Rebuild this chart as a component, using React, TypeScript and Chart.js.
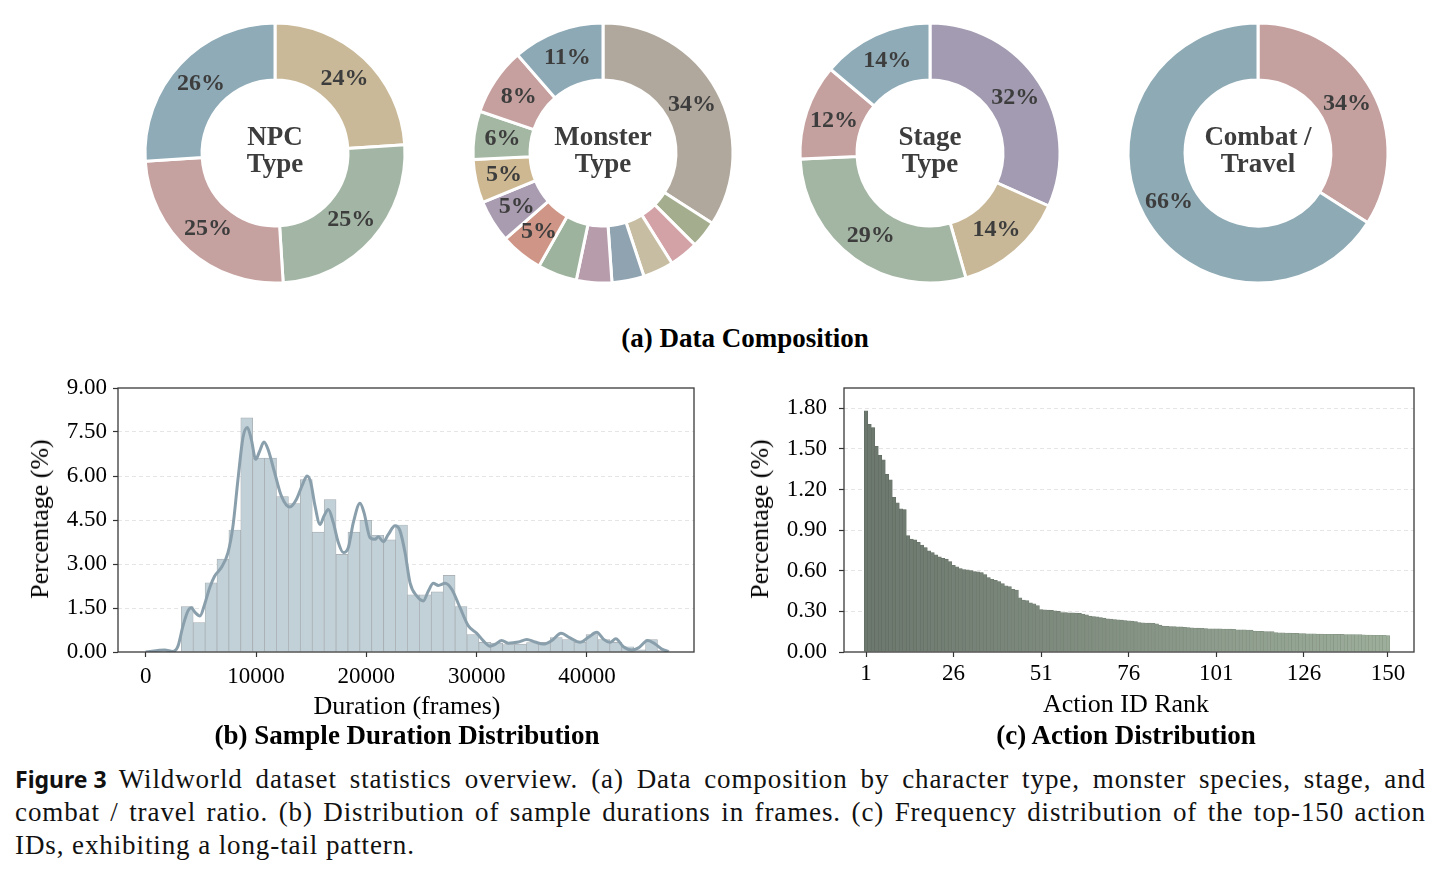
import React, { useEffect, useRef } from "react";
import { Chart, registerables } from "chart.js";

Chart.register(...registerables);

const SERIF = '"Liberation Serif", "Times New Roman", serif';

// ---------------- (a) Data composition ----------------
const npcCategories = ["NPC type 1", "NPC type 2", "NPC type 3", "NPC type 4"];
const npcShares = [24, 25, 25, 26];
const npcColors = ["#c9b998", "#a3b6a5", "#c5a19f", "#8eabb7"];

const monsterCategories = [
  "Species 1", "Species 2", "Species 3", "Species 4", "Species 5", "Species 6", "Species 7",
  "Species 8", "Species 9", "Species 10", "Species 11", "Species 12", "Species 13",
];
const monsterShares = [34.1, 3.4, 3.6, 3.8, 4.0, 4.4, 4.9, 5.3, 5.3, 5.4, 6.0, 8.4, 11.4];
const monsterColors = [
  "#b1a89d", "#a4ae8e", "#d3a2a6", "#c7bda2", "#8fa3b1", "#b79cac", "#9db39d",
  "#cf9687", "#a99cb1", "#cdb892", "#a3b7a2", "#c5a09f", "#8ea9b6",
];

const stageCategories = ["Stage 1", "Stage 2", "Stage 3", "Stage 4", "Stage 5"];
const stageShares = [32, 14, 29, 12, 14];
const stageColors = ["#a39bb1", "#c8b898", "#a3b5a3", "#c4a09f", "#8eabb7"];

const combatCategories = ["Combat", "Travel"];
const combatShares = [34, 66];
const combatColors = ["#c4a09f", "#8eaab5"];

// ---------------- (b) Sample duration distribution ----------------
const durationBinStart = 3228;
const durationBinWidth = 1079;
const durationHistogram = [
  1.55, 1.0, 2.36, 3.17, 4.16, 7.98, 6.61, 6.61, 5.3, 5.06, 5.88, 4.09, 5.2, 3.33, 4.09, 4.49,
  3.98, 3.82, 4.33, 1.95, 1.95, 2.05, 2.61, 1.55, 0.59, 0.33, 0.3, 0.25, 0.27, 0.32, 0.33,
  0.49, 0.42, 0.33, 0.59, 0.42, 0.33, 0.18, 0.07, 0.42, 0.05,
];
const kdeFrames = [
  0, 1722, 2475, 2928, 3382, 3835, 4135, 4497, 4923, 5348, 5802, 6255, 6857, 7461, 7915, 8368,
  8821, 9213, 9576, 9970, 10335, 10725, 11088, 11692, 12297, 13055, 13658, 14262, 14624, 14950,
  15349, 15802, 16165, 16555, 17008, 17461, 17915, 18368, 18821, 19429, 19791, 20335, 20789,
  21088, 21541, 21995, 22602, 23056, 23508, 23962, 24569, 25168, 25621, 26074, 26528, 27135,
  27742, 28495, 29248, 30009, 30607, 31215, 31668, 32276, 32874, 33780, 34542, 35295, 36047,
  36808, 37652, 38468, 39374, 40127, 40889, 41487, 42095, 42611, 43300, 44061, 44660, 45512,
  46174, 46781, 47380,
];
const kdeDensity = [
  0, 0.07, 0.02, 0.2, 0.89, 1.4, 1.51, 1.34, 1.23, 1.63, 2.19, 2.59, 2.88, 3.39, 4.3, 5.89,
  7.31, 7.65, 7.25, 6.57, 6.85, 7.16, 6.91, 6.11, 5.32, 4.94, 5.2, 5.75, 6.0, 5.8,
  4.98, 4.35, 4.64, 4.86, 4.41, 3.73, 3.39, 3.56, 4.41, 5.07, 4.75, 3.9, 3.84,
  3.93, 3.76, 4.01, 4.3, 4.13, 3.39, 2.36, 1.91, 1.74, 2.08, 2.34, 2.27, 2.34,
  2.14, 1.51, 0.89, 0.64, 0.38, 0.2, 0.26, 0.39, 0.3, 0.34, 0.43, 0.34, 0.27,
  0.39, 0.64, 0.48, 0.33, 0.5, 0.67, 0.44, 0.33, 0.45, 0.18, 0.07, 0.14, 0.39,
  0.27, 0.1, 0.02,
];
const durationTicks = [0, 10000, 20000, 30000, 40000];
const durationPctTicks = [0, 1.5, 3, 4.5, 6, 7.5, 9];

// ---------------- (c) Action distribution ----------------
const actionShares = [
  1.781, 1.682, 1.658, 1.519, 1.453, 1.42, 1.312, 1.272, 1.143, 1.101,
  1.057, 1.052, 0.859, 0.834, 0.829, 0.81, 0.79, 0.772, 0.748, 0.735,
  0.718, 0.703, 0.691, 0.686, 0.668, 0.641, 0.629, 0.617, 0.609, 0.607,
  0.602, 0.594, 0.592, 0.587, 0.572, 0.55, 0.537, 0.53, 0.52, 0.505,
  0.488, 0.483, 0.463, 0.458, 0.401, 0.384, 0.379, 0.364, 0.355, 0.342,
  0.314, 0.312, 0.309, 0.307, 0.304, 0.3, 0.292, 0.292, 0.29, 0.29,
  0.287, 0.285, 0.28, 0.275, 0.265, 0.262, 0.26, 0.255, 0.25, 0.245,
  0.243, 0.24, 0.238, 0.235, 0.233, 0.23, 0.228, 0.225, 0.218, 0.215,
  0.214, 0.213, 0.212, 0.208, 0.198, 0.191, 0.19, 0.188, 0.187, 0.186,
  0.185, 0.183, 0.181, 0.178, 0.177, 0.176, 0.175, 0.173, 0.172, 0.171,
  0.171, 0.171, 0.17, 0.17, 0.169, 0.168, 0.164, 0.163, 0.163, 0.162,
  0.161, 0.154, 0.153, 0.152, 0.151, 0.15, 0.15, 0.143, 0.142, 0.141,
  0.14, 0.139, 0.137, 0.137, 0.136, 0.136, 0.135, 0.135, 0.134, 0.132,
  0.132, 0.131, 0.131, 0.131, 0.13, 0.13, 0.13, 0.129, 0.129, 0.129,
  0.128, 0.128, 0.126, 0.125, 0.125, 0.124, 0.124, 0.123, 0.123, 0.122,
];
const actionRankTicks = [1, 26, 51, 76, 101, 126, 150];
const actionPctTicks = [0, 0.3, 0.6, 0.9, 1.2, 1.5, 1.8];

// ---------------- helpers ----------------
const framePlugin = {
  id: "frameBox",
  afterDraw(chart: any) {
    const { ctx, chartArea } = chart;
    ctx.save();
    ctx.strokeStyle = "#3a3a3a";
    ctx.lineWidth = 1.3;
    ctx.strokeRect(chartArea.left, chartArea.top, chartArea.right - chartArea.left, chartArea.bottom - chartArea.top);
    ctx.restore();
  },
};

function mix(a: string, b: string, t: number) {
  const pa = [1, 3, 5].map((i) => parseInt(a.slice(i, i + 2), 16));
  const pb = [1, 3, 5].map((i) => parseInt(b.slice(i, i + 2), 16));
  const c = pa.map((v, i) => Math.round(v + (pb[i] - v) * t));
  return `rgb(${c[0]},${c[1]},${c[2]})`;
}

type DonutProps = {
  cx: number;
  cy: number;
  title: string[];
  categories: string[];
  values: number[];
  colors: string[];
};

function Donut({ cx, cy, title, categories, values, colors }: DonutProps) {
  const ref = useRef<HTMLCanvasElement>(null);
  useEffect(() => {
    const total = values.reduce((a, b) => a + b, 0);
    const labelPlugin = {
      id: "donutLabels",
      afterDatasetsDraw(chart: any) {
        const ctx = chart.ctx;
        const meta = chart.getDatasetMeta(0);
        ctx.save();
        ctx.fillStyle = "#3d3d3d";
        ctx.textAlign = "center";
        ctx.textBaseline = "middle";
        ctx.font = `bold 24px ${SERIF}`;
        meta.data.forEach((arc: any, i: number) => {
          const pct = (values[i] / total) * 100;
          if (pct < 5) return;
          const p = arc.getProps(["x", "y", "startAngle", "endAngle", "innerRadius", "outerRadius"], true);
          const a = (p.startAngle + p.endAngle) / 2;
          const r = (p.innerRadius + p.outerRadius) / 2;
          ctx.fillText(`${Math.round(pct)}%`, p.x + Math.cos(a) * r, p.y + Math.sin(a) * r);
        });
        const c = meta.data[0].getProps(["x", "y"], true);
        ctx.font = `bold 27px ${SERIF}`;
        ctx.textBaseline = "alphabetic";
        ctx.fillText(title[0], c.x, c.y - 8);
        ctx.fillText(title[1], c.x, c.y + 18.5);
        ctx.restore();
      },
    };
    const chart = new Chart(ref.current as HTMLCanvasElement, {
      type: "doughnut",
      data: {
        labels: categories,
        datasets: [
          {
            data: values,
            backgroundColor: colors,
            borderColor: "#ffffff",
            borderWidth: 3,
            borderJoinStyle: "miter",
          } as any,
        ],
      },
      options: {
        responsive: false,
        animation: false,
        devicePixelRatio: 1,
        radius: 130,
        cutout: 75.5,
        layout: { padding: 0 },
        plugins: { legend: { display: false }, tooltip: { enabled: false } },
      } as any,
      plugins: [labelPlugin],
    });
    return () => chart.destroy();
  }, []);
  return (
    <canvas
      ref={ref}
      width={272}
      height={272}
      style={{ position: "absolute", left: cx - 136, top: cy - 136, width: 272, height: 272 }}
    />
  );
}

const tickFont = { family: SERIF, size: 23 };

function DurationChart() {
  const ref = useRef<HTMLCanvasElement>(null);
  useEffect(() => {
    const bars = durationHistogram.map((v, i) => ({
      x: durationBinStart + durationBinWidth * (i + 0.5),
      y: v,
    }));
    const kde = kdeFrames.map((x, i) => ({ x, y: kdeDensity[i] }));
    const chart = new Chart(ref.current as HTMLCanvasElement, {
      type: "bar",
      data: {
        datasets: [
          {
            type: "line",
            data: kde,
            borderColor: "#8a9fac",
            borderWidth: 3,
            pointRadius: 0,
            tension: 0.4,
            cubicInterpolationMode: "monotone",
            order: 0,
          } as any,
          {
            type: "bar",
            data: bars,
            backgroundColor: "#c2d0d7",
            borderColor: "#a4abaf",
            borderWidth: 0.7,
            borderSkipped: "bottom",
            barPercentage: 1,
            categoryPercentage: 1,
            grouped: false,
            order: 1,
          } as any,
        ],
      },
      options: {
        responsive: false,
        animation: false,
        devicePixelRatio: 1,
        layout: { padding: { top: 18, right: 26, left: 0, bottom: 0 } },
        plugins: { legend: { display: false }, tooltip: { enabled: false } },
        scales: {
          x: {
            type: "linear",
            offset: false,
            min: -2508,
            max: 49699,
            afterBuildTicks: (s: any) => {
              s.ticks = durationTicks.map((v) => ({ value: v }));
            },
            afterFit: (s: any) => {
              s.height = 48;
              s.paddingLeft = 0;
              s.paddingRight = 0;
            },
            grid: { offset: false, drawOnChartArea: false, drawTicks: true, tickLength: 5, tickColor: "#333", tickWidth: 1.2 },
            border: { display: false },
            ticks: { color: "#000", font: tickFont, padding: 6, maxRotation: 0, autoSkip: false, callback: (v: any) => String(v) },
          },
          y: {
            min: 0,
            max: 9,
            afterBuildTicks: (s: any) => {
              s.ticks = durationPctTicks.map((v) => ({ value: v }));
            },
            afterFit: (s: any) => {
              s.width = 118;
              s.paddingTop = 0;
              s.paddingBottom = 0;
            },
            grid: {
              color: (c: any) => (c.tick && (c.tick.value === 0 || c.tick.value === 9) ? "rgba(0,0,0,0)" : "#dedede"),
              lineWidth: 0.8,
              tickLength: 5,
              tickColor: "#333",
              tickWidth: 1.2,
            },
            border: { display: false, dash: [4, 3] },
            ticks: { color: "#000", font: tickFont, padding: 6, autoSkip: false, callback: (v: any) => Number(v).toFixed(2) },
          },
        },
      } as any,
      plugins: [framePlugin],
    });
    return () => chart.destroy();
  }, []);
  return (
    <canvas ref={ref} width={720} height={330} style={{ position: "absolute", left: 0, top: 370, width: 720, height: 330 }} />
  );
}

function ActionChart() {
  const ref = useRef<HTMLCanvasElement>(null);
  useEffect(() => {
    const n = actionShares.length;
    const points = actionShares.map((v, i) => ({ x: i + 1, y: v }));
    const fills = actionShares.map((_, i) => mix("#6c776d", "#9dae9b", i / (n - 1)));
    const edges = actionShares.map((_, i) => mix("#5f6a60", "#8a9a88", i / (n - 1)));
    const chart = new Chart(ref.current as HTMLCanvasElement, {
      type: "bar",
      data: {
        datasets: [
          {
            data: points,
            backgroundColor: fills,
            borderColor: edges,
            borderWidth: 0.6,
            borderSkipped: "bottom",
            barPercentage: 1,
            categoryPercentage: 1,
          } as any,
        ],
      },
      options: {
        responsive: false,
        animation: false,
        devicePixelRatio: 1,
        layout: { padding: { top: 18, right: 26, left: 0, bottom: 0 } },
        plugins: { legend: { display: false }, tooltip: { enabled: false } },
        scales: {
          x: {
            type: "linear",
            offset: false,
            min: -5.29,
            max: 157.43,
            afterBuildTicks: (s: any) => {
              s.ticks = actionRankTicks.map((v) => ({ value: v }));
            },
            afterFit: (s: any) => {
              s.height = 48;
              s.paddingLeft = 0;
              s.paddingRight = 0;
            },
            grid: { offset: false, drawOnChartArea: false, drawTicks: true, tickLength: 5, tickColor: "#333", tickWidth: 1.2 },
            border: { display: false },
            ticks: { color: "#000", font: tickFont, padding: 3, maxRotation: 0, autoSkip: false, callback: (v: any) => String(v) },
          },
          y: {
            min: 0,
            max: 1.95,
            afterBuildTicks: (s: any) => {
              s.ticks = actionPctTicks.map((v) => ({ value: v }));
            },
            afterFit: (s: any) => {
              s.width = 114;
              s.paddingTop = 0;
              s.paddingBottom = 0;
            },
            grid: {
              color: (c: any) => (c.tick && c.tick.value === 0 ? "rgba(0,0,0,0)" : "#dedede"),
              lineWidth: 0.8,
              tickLength: 5,
              tickColor: "#333",
              tickWidth: 1.2,
            },
            border: { display: false, dash: [4, 3] },
            ticks: { color: "#000", font: tickFont, padding: 12, autoSkip: false, callback: (v: any) => Number(v).toFixed(2) },
          },
        },
      } as any,
      plugins: [framePlugin],
    });
    return () => chart.destroy();
  }, []);
  return (
    <canvas ref={ref} width={710} height={330} style={{ position: "absolute", left: 730, top: 370, width: 710, height: 330 }} />
  );
}

function Label({ x, y, children, size = 24, bold = false, rotate = false }: any) {
  return (
    <div
      style={{
        position: "absolute",
        left: x,
        top: y,
        transform: `translate(-50%, -50%)${rotate ? " rotate(-90deg)" : ""}`,
        whiteSpace: "nowrap",
        fontFamily: SERIF,
        fontSize: size,
        fontWeight: bold ? 700 : 400,
        lineHeight: 1,
        color: "#000",
      }}
    >
      {children}
    </div>
  );
}

const captionStyle: React.CSSProperties = {
  position: "absolute",
  left: 15,
  width: 1411,
  fontFamily: SERIF,
  fontSize: 27,
  letterSpacing: "0.9px",
  lineHeight: "32px",
  color: "#111",
  whiteSpace: "nowrap",
};

export default function App() {
  return (
    <div style={{ position: "absolute", left: 0, top: 0, width: 1442, height: 877, background: "#fff", overflow: "hidden" }}>
      <Donut cx={275} cy={153} title={["NPC", "Type"]} categories={npcCategories} values={npcShares} colors={npcColors} />
      <Donut cx={603} cy={153} title={["Monster", "Type"]} categories={monsterCategories} values={monsterShares} colors={monsterColors} />
      <Donut cx={930} cy={153} title={["Stage", "Type"]} categories={stageCategories} values={stageShares} colors={stageColors} />
      <Donut cx={1258} cy={153} title={["Combat /", "Travel"]} categories={combatCategories} values={combatShares} colors={combatColors} />
      <Label x={745} y={338} size={27} bold>(a) Data Composition</Label>

      <DurationChart />
      <ActionChart />

      <Label x={40} y={519} size={26} rotate>Percentage (%)</Label>
      <Label x={407} y={706} size={26}>Duration (frames)</Label>
      <Label x={407} y={735} size={27} bold>(b) Sample Duration Distribution</Label>

      <Label x={760} y={519} size={26} rotate>Percentage (%)</Label>
      <Label x={1126} y={704} size={26}>Action ID Rank</Label>
      <Label x={1126} y={735} size={27} bold>(c) Action Distribution</Label>

      <div style={{ ...captionStyle, top: 763, textAlign: "justify", textAlignLast: "justify" as any }}>
        <span
          style={{
            display: "inline-block",
            fontFamily: '"Noto Sans", "Open Sans", sans-serif',
            fontWeight: 700,
            fontSize: 23,
            letterSpacing: "0px",
            marginRight: 12,
          }}
        >
          Figure 3
        </span>
        {"Wildworld dataset statistics overview. (a) Data composition by character type, monster species, stage, and"}
      </div>
      <div style={{ ...captionStyle, top: 796, textAlign: "justify", textAlignLast: "justify" as any }}>
        combat / travel ratio. (b) Distribution of sample durations in frames. (c) Frequency distribution of the top-150 action
      </div>
      <div style={{ ...captionStyle, top: 829 }}>IDs, exhibiting a long-tail pattern.</div>
    </div>
  );
}
